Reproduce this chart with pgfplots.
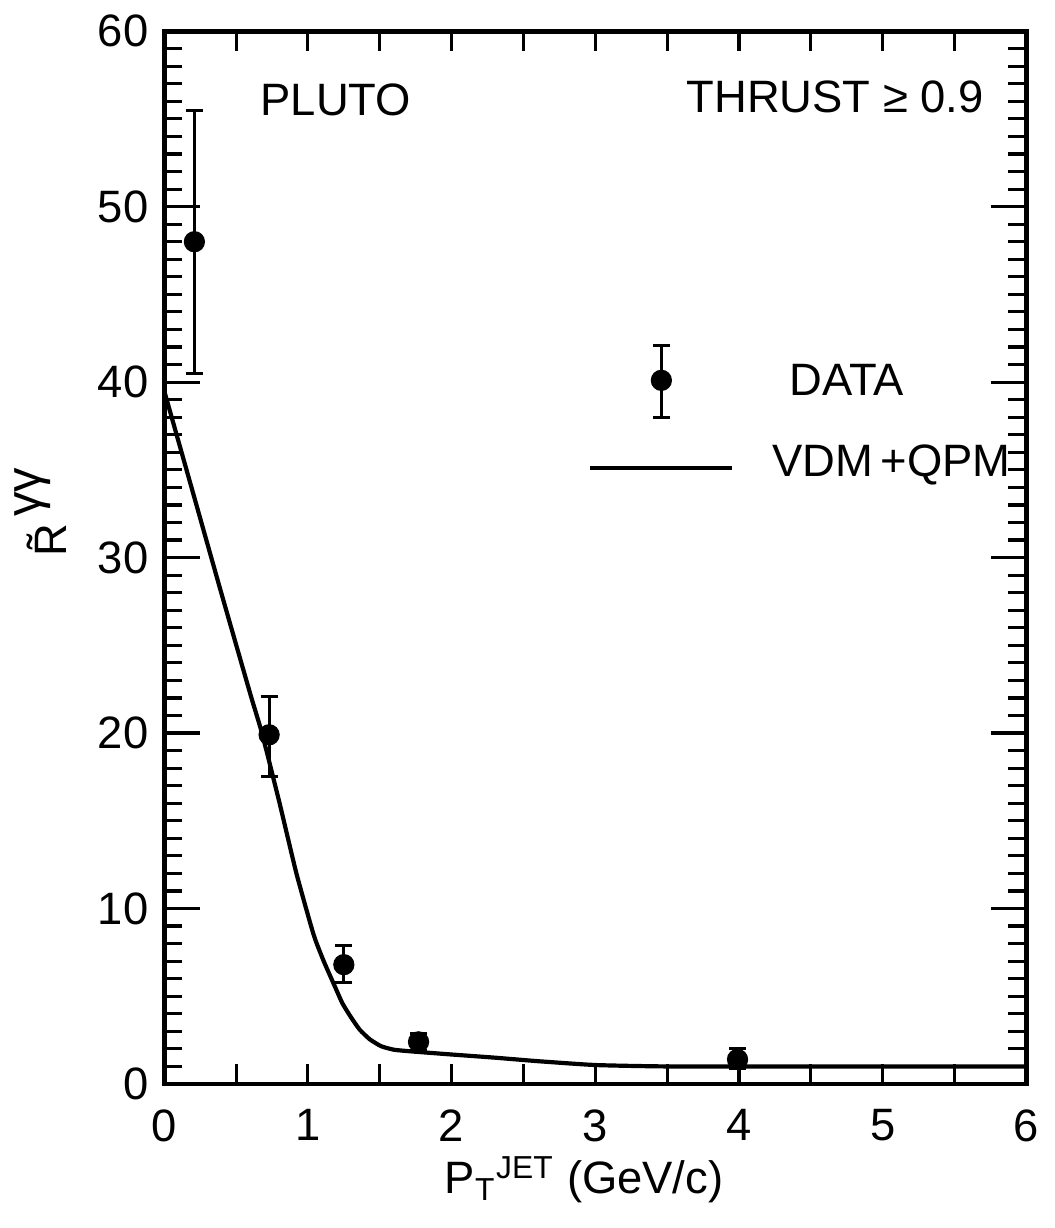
\documentclass[border=0pt]{standalone}
\usepackage{fontspec}
\setmainfont{Liberation Sans}
\usepackage{pgfplots}
\pgfplotsset{compat=1.18}
\begin{document}
\fontsize{13pt}{15pt}\selectfont
\begin{tikzpicture}
\begin{axis}[
  width=86.8mm, height=106mm, scale only axis,
  xmin=0, xmax=6, ymin=0, ymax=60,
  xtick={0,...,6}, minor x tick num=1,
  ytick={0,10,...,60}, minor y tick num=9,
  tick align=inside,
  axis line style={line width=1.4pt},
  xtick style={/pgfplots/major tick length=2mm, /pgfplots/minor tick length=2mm, line width=0.9pt, black},
  ytick style={/pgfplots/major tick length=3.6mm, /pgfplots/minor tick length=1.8mm, line width=0.9pt, black},
  /pgf/number format/assume math mode=true,
  xticklabel style={yshift=-1.0mm},
  ticklabel style={font=\fontsize{13pt}{15pt}\selectfont},
  xlabel={P\textsubscript{T}\textsuperscript{JET} (GeV/c)},
  xlabel style={at={(axis description cs:0.487,-0.104)}, anchor=base},
  ylabel={\~R\,\raisebox{2.6mm}{\fontsize{14pt}{16pt}\selectfont γγ}},
  ylabel style={at={(axis description cs:-0.143,0.543)}, anchor=center},
  clip=false,
]
% theory curve VDM+QPM
\addplot[line width=1.2pt, smooth, tension=0.3] coordinates {
(0,39.5) (0.2,33.7) (0.4,27.9) (0.6,22.2) (0.68,20) (0.8,16.1)
(0.92,12.0) (1.04,8.5) (1.11,7) (1.18,5.7) (1.24,4.6) (1.30,3.8)
(1.36,3.1) (1.43,2.55) (1.51,2.15) (1.6,1.95) (1.73,1.85) (2.0,1.68) (2.3,1.5)
(2.6,1.3) (3.0,1.08) (3.5,1.0) (4.5,1.0) (6,1.0)
};
% data
\addplot[only marks, mark=*, mark size=1mm, black,
  error bars/.cd, y dir=both, y explicit,
  error bar style={line width=0.9pt},
  error mark options={rotate=90, mark size=0.85mm, line width=0.9pt}]
coordinates {
(0.21,48.0) += (0,7.5) -= (0,7.5)
(0.73,19.9) += (0,2.2) -= (0,2.4)
(1.25,6.8) += (0,1.1) -= (0,1.0)
(1.77,2.4) += (0,0.5) -= (0,0.5)
(3.99,1.4) += (0,0.6) -= (0,0.5)
};
% legend symbols
\addplot[only marks, mark=*, mark size=1mm, black,
  error bars/.cd, y dir=both, y explicit,
  error bar style={line width=0.9pt},
  error mark options={rotate=90, mark size=0.85mm, line width=0.9pt}]
coordinates {(3.46,40.1) += (0,2.0) -= (0,2.1)};
\addplot[line width=1.2pt] coordinates {(2.96,35.1) (3.95,35.1)};
\node at (axis cs:1.195,56.1) {PLUTO};
\node at (axis cs:4.67,56.25) {THRUST ≥ 0.9};
\node at (axis cs:4.75,40.1) {DATA};
\node at (axis cs:5.06,35.3) {VDM\,+QPM};
\end{axis}
\path (current axis.south west) ++(-16.2mm,-14.5mm) coordinate (bbA);
\path (current axis.north east) ++(2.7mm,2.3mm) coordinate (bbB);
\path (bbA) (bbB);
\end{tikzpicture}
\end{document}
